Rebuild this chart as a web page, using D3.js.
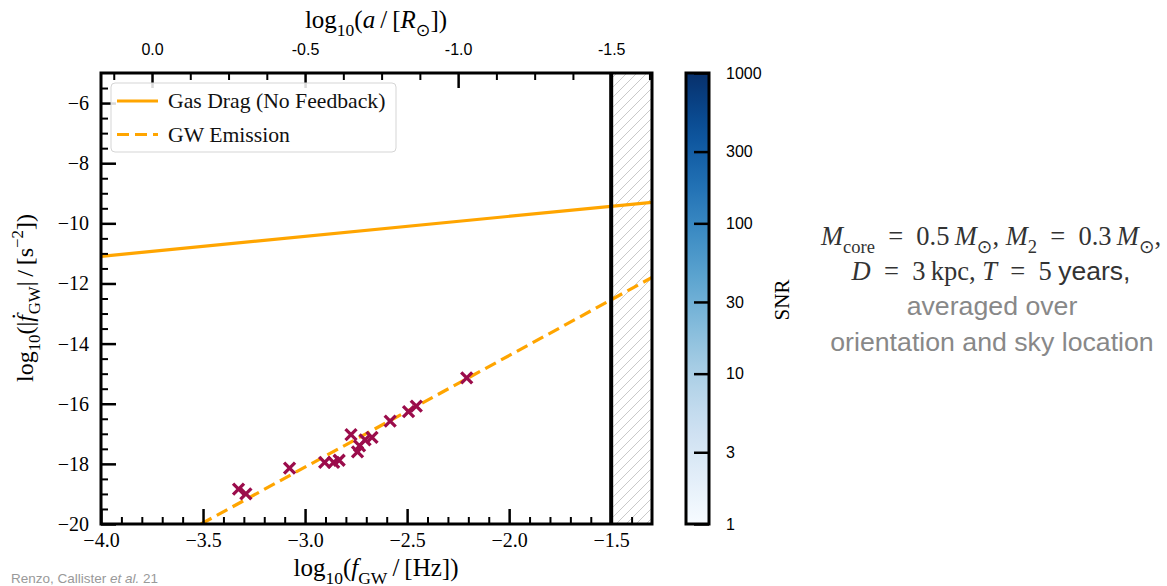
<!DOCTYPE html>
<html>
<head>
<meta charset="utf-8">
<script src="https://cdn.jsdelivr.net/npm/d3@7"></script>
<style>
  html, body { margin: 0; padding: 0; background: #fff; }
  svg { display: block; }
</style>
</head>
<body>
<svg id="chart" width="1167" height="586"></svg>
<script>
// ---------------- data ----------------
const xMajorTicks = [-4.0, -3.5, -3.0, -2.5, -2.0, -1.5];
const yMajorTicks = [-20, -18, -16, -14, -12, -10, -8, -6];
const topMajorTicks = [0.0, -0.5, -1.0, -1.5];
const snrTicks = [1, 3, 10, 30, 100, 300, 1000];

// Gas drag (no feedback) line: [log f, log fdot]
const gasDragX = [-4.0, -1.3];
const gasDragY = [-11.1, -9.3];
// GW emission line
const gwX = [-3.51, -1.3];
const gwY = [-20.0, -11.8];

// simulated binaries (crosses)
const ptsX = [-3.326, -3.290, -3.076, -2.904, -2.860, -2.833, -2.775, -2.743, -2.733, -2.706, -2.672, -2.583, -2.493, -2.455, -2.208];
const ptsY = [-18.84, -19.00, -18.14, -17.95, -17.95, -17.88, -17.03, -17.60, -17.40, -17.20, -17.12, -16.58, -16.26, -16.08, -15.14];

const fCut = -1.5; // vertical boundary

// ---------------- layout ----------------
const svg = d3.select("#chart");
const L = 101, R = 652, T = 73, B = 524;
const serif = "'Liberation Serif', 'DejaVu Serif', serif";
const sans = "'Liberation Sans', Arial, sans-serif";

const x = d3.scaleLinear().domain([-4.0, -1.3]).range([L, R]);
const y = d3.scaleLinear().domain([-20, -5]).range([B, T]);
// top axis: log10(a/Rsun) = -(log f + 3.75)/1.5
const toA = f => -(f + 3.75) / 1.5;
const xTop = d3.scaleLinear().domain([toA(-4.0), toA(-1.3)]).range([L, R]);

const defs = svg.append("defs");
defs.append("clipPath").attr("id", "plotclip")
  .append("rect").attr("x", L).attr("y", T).attr("width", R - L).attr("height", B - T);

const pat = defs.append("pattern").attr("id", "hatch")
  .attr("patternUnits", "userSpaceOnUse").attr("width", 10).attr("height", 10);
pat.append("path").attr("d", "M-2,12 L12,-2 M-2,2 L2,-2 M8,12 L12,8")
  .attr("stroke", "#c9c9c9").attr("stroke-width", 1);

const grad = defs.append("linearGradient").attr("id", "blues")
  .attr("x1", 0).attr("y1", 1).attr("x2", 0).attr("y2", 0);
d3.range(0, 1.0001, 0.05).forEach(t => {
  grad.append("stop").attr("offset", t).attr("stop-color", d3.interpolateBlues(t));
});

const plot = svg.append("g").attr("clip-path", "url(#plotclip)");

// hatched region beyond cut
plot.append("rect").attr("x", x(fCut)).attr("y", T)
  .attr("width", x(-1.3) - x(fCut)).attr("height", B - T)
  .attr("fill", "url(#hatch)");

const line = d3.line().x(d => x(d[0])).y(d => y(d[1]));
plot.append("path").datum(gasDragX.map((v, i) => [v, gasDragY[i]]))
  .attr("d", line).attr("fill", "none").attr("stroke", "#FFA500").attr("stroke-width", 3.2);
plot.append("path").datum(gwX.map((v, i) => [v, gwY[i]]))
  .attr("d", line).attr("fill", "none").attr("stroke", "#FFA500").attr("stroke-width", 3.2)
  .attr("stroke-dasharray", "12,6");

// crosses
const s = 5.5;
plot.selectAll("path.pt").data(ptsX.map((v, i) => [v, ptsY[i]])).enter()
  .append("path").attr("class", "pt")
  .attr("d", d => {
    const cx = x(d[0]), cy = y(d[1]);
    return `M${cx - s},${cy - s}L${cx + s},${cy + s}M${cx - s},${cy + s}L${cx + s},${cy - s}`;
  })
  .attr("stroke", "#9b0c4b").attr("stroke-width", 3.3).attr("fill", "none");

// vertical cut line
svg.append("line").attr("x1", x(fCut)).attr("x2", x(fCut)).attr("y1", T).attr("y2", B)
  .attr("stroke", "#000").attr("stroke-width", 4);

// ---------------- axes ----------------
function styleAxis(g) {
  g.select(".domain").remove();
  g.selectAll(".tick line").attr("stroke", "#000");
  return g;
}
const xMinor = d3.range(-3.9, -1.3, 0.1).filter(v => Math.abs(v * 2 - Math.round(v * 2)) > 1e-6);
const yMinor = d3.range(-19.5, -5, 0.5).filter(v => Math.abs(v / 2 - Math.round(v / 2)) > 1e-6);
const topMinor = d3.range(0.125, -1.63, -0.125).filter(v => Math.abs(v * 2 - Math.round(v * 2)) > 1e-6);

// bottom
svg.append("g").attr("transform", `translate(0,${B})`)
  .call(d3.axisBottom(x).tickValues(xMinor).tickSize(-7).tickFormat(""))
  .call(styleAxis).selectAll(".tick line").attr("stroke-width", 2);
const gxb = svg.append("g").attr("transform", `translate(0,${B})`)
  .call(d3.axisBottom(x).tickValues(xMajorTicks).tickSize(-15).tickPadding(9).tickFormat(d3.format(".1f")))
  .call(styleAxis);
gxb.selectAll(".tick line").attr("stroke-width", 2.5);
gxb.selectAll("text").attr("font-family", serif).attr("font-size", 20).attr("fill", "#000");

// left
svg.append("g").attr("transform", `translate(${L},0)`)
  .call(d3.axisLeft(y).tickValues(yMinor).tickSize(-7).tickFormat(""))
  .call(styleAxis).selectAll(".tick line").attr("stroke-width", 2);
const gyl = svg.append("g").attr("transform", `translate(${L},0)`)
  .call(d3.axisLeft(y).tickValues(yMajorTicks).tickSize(-15).tickPadding(12).tickFormat(d3.format("d")))
  .call(styleAxis);
gyl.selectAll(".tick line").attr("stroke-width", 2.5);
gyl.selectAll("text").attr("font-family", serif).attr("font-size", 20).attr("fill", "#000");

// top
svg.append("g").attr("transform", `translate(0,${T})`)
  .call(d3.axisTop(xTop).tickValues(topMinor).tickSize(-7).tickFormat(""))
  .call(styleAxis).selectAll(".tick line").attr("stroke-width", 2);
const gxt = svg.append("g").attr("transform", `translate(0,${T})`)
  .call(d3.axisTop(xTop).tickValues(topMajorTicks).tickSize(-15).tickPadding(18)
    .tickFormat(d => d3.format(".1f")(d).replace("\u2212", "-")))
  .call(styleAxis);
gxt.selectAll(".tick line").attr("stroke-width", 2.5);
gxt.selectAll("text").attr("font-family", sans).attr("font-size", 16).attr("fill", "#000");

// frame
svg.append("rect").attr("x", L).attr("y", T).attr("width", R - L).attr("height", B - T)
  .attr("fill", "none").attr("stroke", "#000").attr("stroke-width", 3);

// ---------------- axis labels ----------------
function mathText(g, parts, size) {
  const t = g.append("text").attr("font-family", serif).attr("font-size", size).attr("fill", "#000");
  let shift = 0;
  parts.forEach(p => {
    const ts = t.append("tspan").text(p.t);
    let target = 0;
    if (p.sub) target = size * 0.3;
    if (p.sup) target = -size * 0.42;
    if (p.up) target = -size * p.up;
    ts.attr("dy", target - shift); shift = target;
    if (p.sub || p.sup) ts.attr("font-size", size * 0.7);
    if (p.i) ts.attr("font-style", "italic");
    if (p.f) ts.attr("font-family", p.f);
    if (p.dx) ts.attr("dx", p.dx * size);
  });
  return t;
}

mathText(svg.append("g"), [
  { t: "log" }, { t: "10", sub: 1 }, { t: "(" }, { t: "a", i: 1 }, { t: "\u2009/\u2009[" }, { t: "R", i: 1 },
  { t: "\u2299", sub: 1, f: "'DejaVu Sans'" }, { t: "])" }
], 25).attr("x", 376).attr("y", 28).attr("text-anchor", "middle");

mathText(svg.append("g"), [
  { t: "log" }, { t: "10", sub: 1 }, { t: "(" }, { t: "f", i: 1 }, { t: "GW", sub: 1 }, { t: "\u2009/\u2009[Hz])" }
], 25).attr("x", 376).attr("y", 576).attr("text-anchor", "middle");

mathText(svg.append("g").attr("transform", "translate(33,298) rotate(-90)"), [
  { t: "log" }, { t: "10", sub: 1 }, { t: "(|" }, { t: "f", i: 1 }, { t: "\u02D9", dx: -0.22, up: 0.2 },
  { t: "GW", sub: 1, dx: -0.08 }, { t: "|\u2009/\u2009[s" }, { t: "\u22122", sup: 1 }, { t: "])" }
], 24).attr("x", 0).attr("y", 0).attr("text-anchor", "middle");

// ---------------- legend ----------------
const lg = svg.append("g");
lg.append("rect").attr("x", 111).attr("y", 83).attr("width", 285).attr("height", 69).attr("rx", 4)
  .attr("fill", "#fff").attr("fill-opacity", 0.85).attr("stroke", "#d5d5d5").attr("stroke-width", 1);
lg.append("line").attr("x1", 117).attr("x2", 158).attr("y1", 101).attr("y2", 101)
  .attr("stroke", "#FFA500").attr("stroke-width", 3.2);
lg.append("line").attr("x1", 117).attr("x2", 158).attr("y1", 134.5).attr("y2", 134.5)
  .attr("stroke", "#FFA500").attr("stroke-width", 3.2).attr("stroke-dasharray", "12,6");
lg.append("text").attr("x", 168).attr("y", 108).text("Gas Drag (No Feedback)")
  .attr("font-family", serif).attr("font-size", 21.7).attr("fill", "#111");
lg.append("text").attr("x", 168).attr("y", 142).text("GW Emission")
  .attr("font-family", serif).attr("font-size", 21.7).attr("fill", "#111");

// ---------------- colorbar ----------------
const cbL = 686, cbR = 709;
const cy = d3.scaleLog().domain([1, 1000]).range([B, T]);
svg.append("rect").attr("x", cbL).attr("y", T).attr("width", cbR - cbL).attr("height", B - T)
  .attr("fill", "url(#blues)");
const gcb = svg.append("g").attr("transform", `translate(${cbR},0)`)
  .call(d3.axisRight(cy).tickValues(snrTicks).tickSize(-15).tickPadding(17).tickFormat(d3.format("d")))
  .call(styleAxis);
gcb.selectAll(".tick line").attr("stroke-width", 2.5);
gcb.selectAll("text").attr("font-family", sans).attr("font-size", 16).attr("fill", "#000");
svg.append("rect").attr("x", cbL).attr("y", T).attr("width", cbR - cbL).attr("height", B - T)
  .attr("fill", "none").attr("stroke", "#000").attr("stroke-width", 3);
svg.append("text").attr("transform", "translate(789,300) rotate(-90)")
  .attr("text-anchor", "middle").attr("font-family", serif).attr("font-size", 21).text("SNR");

// ---------------- annotation ----------------
const ann = svg.append("g");
const eq = "\u2002=\u2002";
mathText(ann, [
  { t: "M", i: 1 }, { t: "core", sub: 1 }, { t: eq + "0.5\u2009" }, { t: "M", i: 1 },
  { t: "\u2299", sub: 1, f: "'DejaVu Sans'" }, { t: ", " }, { t: "M", i: 1 }, { t: "2", sub: 1 },
  { t: eq + "0.3\u2009" }, { t: "M", i: 1 }, { t: "\u2299", sub: 1, f: "'DejaVu Sans'" }, { t: "," }
], 26.5).attr("x", 991).attr("y", 245).attr("text-anchor", "middle").attr("fill", "#333");
mathText(ann, [
  { t: "D", i: 1 }, { t: eq + "3\u2009kpc, " }, { t: "T", i: 1 }, { t: eq + "5 " }, { t: "years,", f: sans }
], 26.5).attr("x", 991).attr("y", 280).attr("text-anchor", "middle").attr("fill", "#333");
ann.append("text").attr("x", 992).attr("y", 315).attr("text-anchor", "middle")
  .attr("font-family", sans).attr("font-size", 26.7).attr("fill", "#888").text("averaged over");
ann.append("text").attr("x", 992).attr("y", 351).attr("text-anchor", "middle")
  .attr("font-family", sans).attr("font-size", 26.7).attr("fill", "#888").text("orientation and sky location");

// credit
const cr = svg.append("text").attr("x", 11).attr("y", 583)
  .attr("font-family", sans).attr("font-size", 13.5).attr("fill", "#999");
cr.append("tspan").text("Renzo, Callister ");
cr.append("tspan").attr("font-style", "italic").text("et al.");
cr.append("tspan").text(" 21");
</script>
</body>
</html>
